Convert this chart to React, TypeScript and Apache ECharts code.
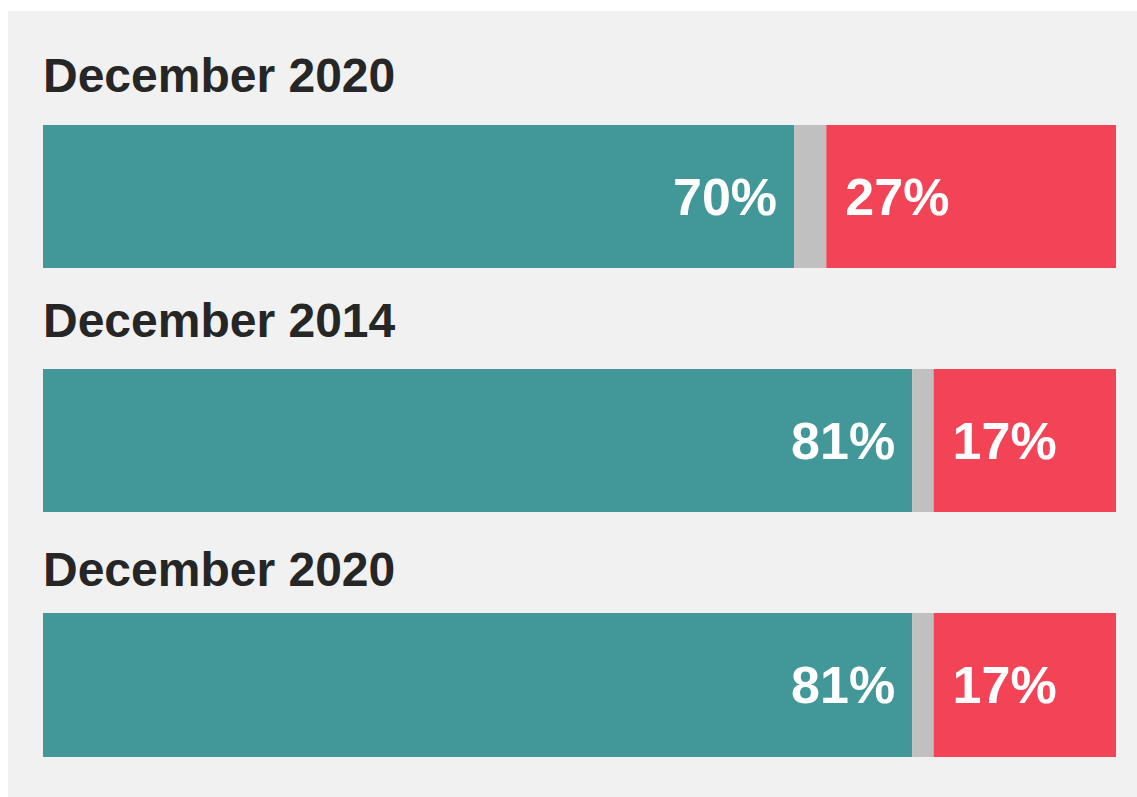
import React, { useEffect, useRef } from "react";
import * as echarts from "echarts";

const periods = ["December 2020", "December 2014", "December 2020"];
const approve = [70, 81, 81];
const neutral = [3, 2, 2];
const disapprove = [27, 17, 17];

const gridTops = [125, 369, 613];
const gridHeights = [143, 143, 144];
const titleCenters = [75, 320, 569.5];

const TEAL = "#429898";
const GRAY = "#c0c0c0";
const RED = "#f24456";
const FONT = "'Liberation Sans', Arial, sans-serif";

export default function App() {
  const ref = useRef<HTMLDivElement>(null);
  useEffect(() => {
    if (!ref.current) return;
    const chart = echarts.init(ref.current, undefined, { renderer: "svg" });
    const grids = periods.map((_, i) => ({
      left: 43,
      width: 1073,
      top: gridTops[i],
      height: gridHeights[i],
      containLabel: false,
    }));
    const xAxes = periods.map((_, i) => ({
      type: "value",
      gridIndex: i,
      min: 0,
      max: 100,
      show: false,
    }));
    const yAxes = periods.map((p, i) => ({
      type: "category",
      gridIndex: i,
      data: [p],
      show: false,
    }));
    const series: any[] = [];
    periods.forEach((_, i) => {
      series.push({
        type: "bar",
        name: "Approve",
        xAxisIndex: i,
        yAxisIndex: i,
        stack: "s" + i,
        barWidth: "100%",
        data: [approve[i]],
        itemStyle: { color: TEAL },
        label: {
          show: true,
          position: "insideRight",
          distance: 17,
          formatter: "{c}%",
          color: "#ffffff",
          fontSize: 52,
          fontWeight: "bold",
          fontFamily: FONT,
        },
      });
      series.push({
        type: "bar",
        name: "Neutral",
        xAxisIndex: i,
        yAxisIndex: i,
        stack: "s" + i,
        barWidth: "100%",
        data: [neutral[i]],
        itemStyle: { color: GRAY },
        label: { show: false },
      });
      series.push({
        type: "bar",
        name: "Disapprove",
        xAxisIndex: i,
        yAxisIndex: i,
        stack: "s" + i,
        barWidth: "100%",
        data: [disapprove[i]],
        itemStyle: { color: RED },
        label: {
          show: true,
          position: "insideLeft",
          distance: 19,
          formatter: "{c}%",
          color: "#ffffff",
          fontSize: 52,
          fontWeight: "bold",
          fontFamily: FONT,
        },
      });
    });
    chart.setOption({
      animation: false,
      backgroundColor: "transparent",
      grid: grids,
      xAxis: xAxes,
      yAxis: yAxes,
      series,
      graphic: periods.map((p, i) => ({
        type: "text",
        x: 43,
        y: titleCenters[i],
        style: {
          text: p,
          fill: "#262626",
          fontSize: 48,
          fontWeight: "bold",
          fontFamily: FONT,
          textVerticalAlign: "middle",
          verticalAlign: "middle",
        },
      })),
    });
    return () => chart.dispose();
  }, []);
  return (
    <div style={{ position: "fixed", left: 0, top: 0, width: 1137, height: 797, background: "#ffffff" }}>
      <div style={{ position: "absolute", left: 8, top: 11, right: 0, bottom: 0, background: "#f1f1f1" }} />
      <div ref={ref} style={{ position: "absolute", left: 0, top: 0, width: 1137, height: 797 }} />
    </div>
  );
}
